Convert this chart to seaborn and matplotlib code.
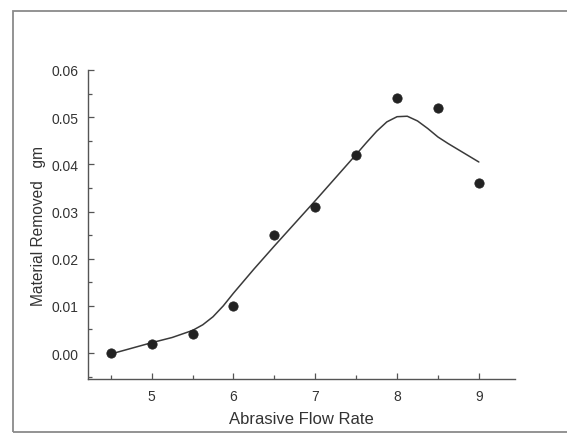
import numpy as np
import pandas as pd
import seaborn as sns
import matplotlib.pyplot as plt
from matplotlib.patches import Rectangle
from matplotlib.ticker import MultipleLocator

# measured points
flow_rate = [4.5, 5.0, 5.5, 6.0, 6.5, 7.0, 7.5, 8.0, 8.5, 9.0]
removed = [0.000, 0.002, 0.004, 0.010, 0.025, 0.031, 0.042, 0.054, 0.052, 0.036]

# smooth fitted curve
curve_x = [4.5, 4.75, 5.0, 5.25, 5.5, 5.625, 5.75, 5.875, 6.0, 6.25, 6.5, 6.75,
           7.0, 7.25, 7.5, 7.625, 7.75, 7.875, 8.0, 8.125, 8.25, 8.375, 8.5,
           8.625, 8.75, 8.875, 9.0]
curve_y = [-0.0002, 0.0010, 0.0022, 0.0033, 0.0048, 0.0060, 0.0077, 0.0100,
           0.0127, 0.0178, 0.0227, 0.0275, 0.0323, 0.0372, 0.0421, 0.0446,
           0.0470, 0.0490, 0.0501, 0.0502, 0.0492, 0.0476, 0.0458, 0.0444,
           0.0431, 0.0418, 0.0405]

pts = pd.DataFrame({"x": flow_rate, "y": removed})
fit = pd.DataFrame({"x": curve_x, "y": curve_y})

sns.set_style("ticks")
plt.rcParams['font.family'] = ['Liberation Sans', 'DejaVu Sans']

fig = plt.figure(figsize=(5.67, 4.35), dpi=100)
ax = fig.add_axes([0.155, 0.1264, 0.753, 0.7104])

grey = "#3a3a3a"
sns.lineplot(data=fit, x="x", y="y", ax=ax, color=grey, lw=1.1, sort=False,
             estimator=None)
sns.scatterplot(data=pts, x="x", y="y", ax=ax, color="#222222", s=45,
                edgecolor="#222222", zorder=3)

ax.set_xlim(4.22, 9.44)
ax.set_ylim(-0.0055, 0.06)
ax.set_xticks([5, 6, 7, 8, 9])
ax.set_yticks([0.0, 0.01, 0.02, 0.03, 0.04, 0.05, 0.06])
ax.set_yticklabels(["0.00", "0.01", "0.02", "0.03", "0.04", "0.05", "0.06"])
ax.xaxis.set_minor_locator(MultipleLocator(0.5))
ax.yaxis.set_minor_locator(MultipleLocator(0.005))

for side in ["top", "right"]:
    ax.spines[side].set_visible(False)
for side in ["left", "bottom"]:
    ax.spines[side].set_color("#555555")
    ax.spines[side].set_linewidth(1.0)

ax.tick_params(which="both", direction="in", color="#555555", width=0.9,
               labelsize=10, labelcolor="#333333")
ax.tick_params(which="major", length=4, pad=7)
ax.tick_params(which="minor", length=3)

ax.set_xlabel("Abrasive Flow Rate", fontsize=12, color="#333333")
ax.set_ylabel("Material Removed   gm", fontsize=11.2, color="#333333")
ax.xaxis.set_label_coords(0.5, -0.102)
ax.yaxis.set_label_coords(-0.098, 0.5)

# outer frame of the figure (right side runs off the image)
fig.patches.append(Rectangle((0.023, 0.005), 1.1, 0.967, transform=fig.transFigure,
                             fill=False, edgecolor="#8a8a8a", lw=1.3,
                             clip_on=False))

fig.savefig("out.png", dpi=100)
